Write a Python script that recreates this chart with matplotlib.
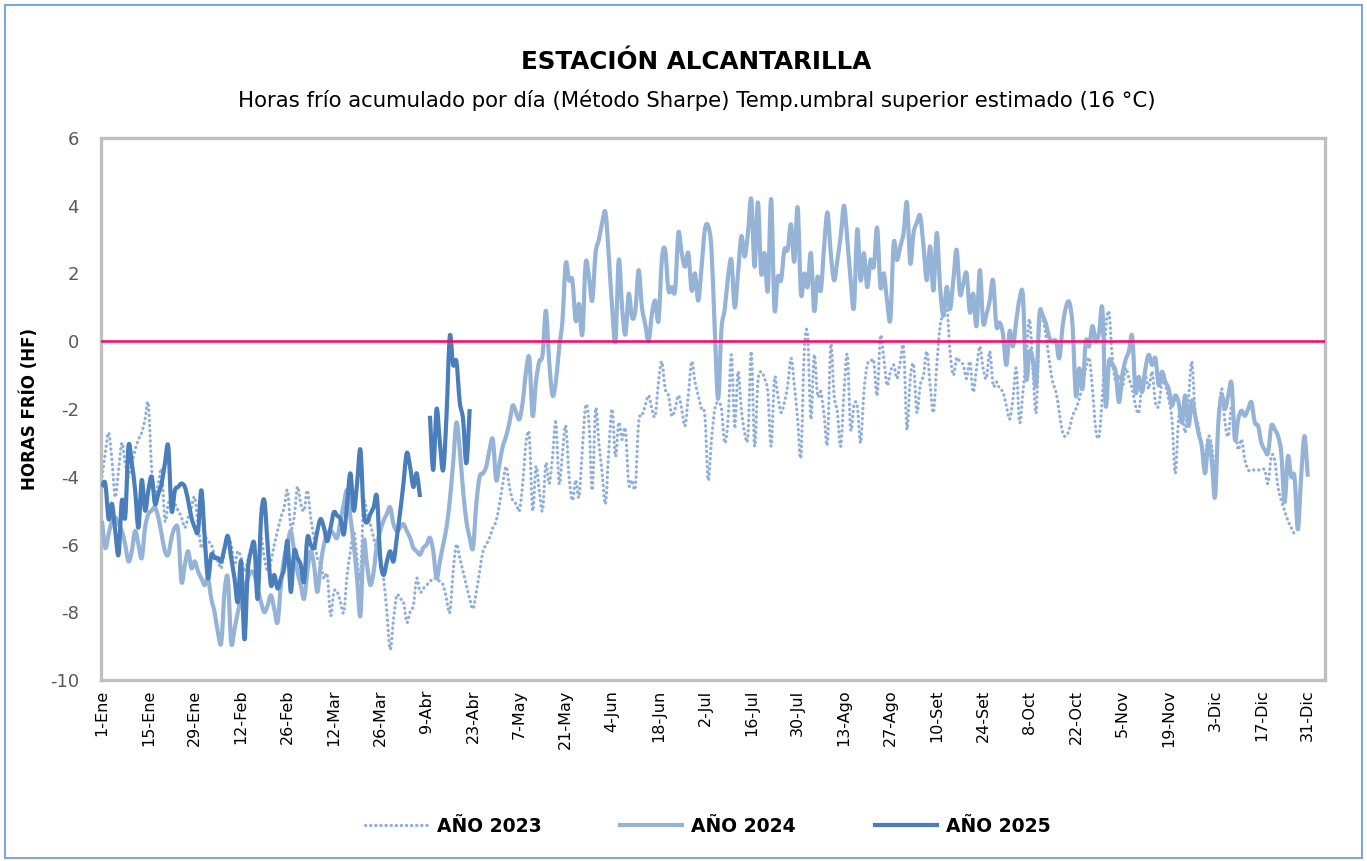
import numpy as np
import matplotlib
matplotlib.use("Agg")
import matplotlib.pyplot as plt
from matplotlib.patches import Rectangle, PathPatch
from matplotlib.path import Path
from matplotlib.lines import Line2D

# daily values (HF per day)
hf_2023 = [
    -4.0, -3.3, -2.7, -3.5, -4.6, -3.8, -3.0, -3.6, -4.0, -3.6,
    -3.2, -2.9, -2.7, -2.3, -1.85, -3.8, -4.5, -4.2, -3.8, -5.3,
    -4.8, -4.6, -4.8, -5.0, -5.2, -5.5, -5.2, -4.9, -4.6, -5.4,
    -6.1, -5.8, -5.9, -6.0, -6.3, -6.5, -6.7, -6.2, -5.9, -6.0,
    -6.6, -6.2, -6.4, -6.8, -6.5, -6.1, -6.3, -6.6, -5.8, -6.4,
    -6.8, -6.5, -6.0, -5.6, -5.2, -4.9, -4.4, -5.5, -5.2, -4.3,
    -4.8, -5.0, -4.4, -5.2, -5.8, -6.4, -6.6, -7.0, -6.9, -8.1,
    -7.4, -7.4, -7.7, -8.0, -6.9, -6.2, -5.6, -6.4, -7.0, -4.8,
    -5.1, -5.4, -5.8, -6.2, -6.4, -7.0, -8.0, -9.1, -8.2, -7.5,
    -7.6, -7.7, -8.3, -8.0, -7.8, -7.0, -7.4, -7.3, -7.2, -7.1,
    -7.0, -7.0, -7.1, -7.2, -7.6, -8.0, -6.8, -6.0, -6.4, -6.8,
    -7.2, -7.6, -7.9, -7.4, -6.8, -6.2, -6.0, -5.8, -5.5, -5.3,
    -4.8, -4.2, -3.7, -4.3, -4.7, -4.8, -5.0, -4.2, -3.0, -2.8,
    -5.0, -3.7, -4.4, -5.0, -3.6, -4.2, -3.4, -2.4, -4.2, -3.3,
    -2.5, -4.0, -4.7, -4.1, -4.6, -3.2, -1.9, -2.4, -4.4, -2.0,
    -3.0, -3.9, -4.8, -3.2, -2.0, -3.4, -2.4, -2.9, -2.6, -4.2,
    -4.1, -4.3, -2.4, -2.2, -1.9, -1.6, -2.0, -2.2, -1.2, -0.6,
    -1.4, -1.6, -2.2, -2.0, -1.6, -2.0, -2.5, -1.6, -0.6, -1.2,
    -1.6, -2.0, -2.2, -4.1, -2.9, -2.0, -1.8, -2.0, -3.0, -2.3,
    -0.4, -2.5, -0.9, -2.0, -2.7, -2.8, -0.3, -3.1, -1.2, -0.9,
    -1.1, -1.5, -3.1, -1.1, -1.6, -2.1, -1.8, -1.3, -0.5, -1.3,
    -2.3, -3.4, -0.3, 0.2, -2.3, -0.4, -1.6, -1.5, -2.2, -3.0,
    -0.1, -1.6, -2.1, -3.1, -1.5, -0.4, -2.6, -1.9, -1.9, -3.0,
    -1.5, -0.7, -0.6, -0.6, -1.6, 0.15, -0.5, -1.3, -0.9, -0.7,
    -1.1, -0.6, -0.2, -2.6, -1.1, -0.7, -2.1, -1.3, -1.0, -0.3,
    -1.3, -2.1, -0.7, 0.45, 0.8, 1.1, -0.3, -1.0, -0.5, -0.6,
    -0.7, -1.1, -0.6, -1.5, -0.8, -0.15, -0.8, -1.1, -0.3, -1.3,
    -1.2, -1.4, -1.5, -1.9, -2.3, -1.7, -0.8, -2.4, -1.5, -0.5,
    0.65, -0.8, -2.1, 0.45, 0.65, 0.15, -0.6, -1.2, -1.5, -2.1,
    -2.7, -2.8, -2.6, -2.2, -2.0, -1.7, -1.3, -0.8, -0.5, -1.4,
    -2.6, -2.8, -1.6, 0.35, 0.85, -0.5, -1.2, -1.0, -1.4, -0.8,
    -1.1, -1.4, -1.9, -2.1, -1.2, -1.0, -1.4, -0.9, -1.8, -1.9,
    -1.2, -1.3, -1.7, -2.3, -3.9, -2.3, -2.0, -2.7, -1.7, -0.6,
    -2.1, -2.5, -3.1, -3.4, -2.8, -3.1, -3.8, -2.5, -1.4, -2.4,
    -2.8, -1.9, -2.5, -3.2, -2.9, -3.5, -3.8, -3.8, -3.8, -3.8,
    -3.8, -3.8, -4.2, -3.4, -3.5, -4.3, -4.7, -5.0, -5.3, -5.5,
    -5.7,
]

hf_2024 = [
    -5.3, -6.1, -5.7, -5.3, -5.2, -5.4, -5.6, -6.0, -6.5, -6.2,
    -5.6, -6.0, -6.4, -5.5, -5.1, -5.0, -4.9, -5.2, -5.7, -6.2,
    -6.3, -5.8, -5.5, -5.6, -7.1, -6.6, -6.2, -6.7, -6.5, -6.8,
    -7.0, -7.2, -7.0, -7.6, -8.0, -8.6, -8.9, -7.4, -7.0, -8.9,
    -8.5, -8.0, -7.6, -7.3, -7.0, -6.8, -6.9, -7.3, -7.7, -8.0,
    -7.8, -7.5, -7.9, -8.3, -7.2, -6.4, -6.0, -5.6, -6.2, -6.8,
    -7.2, -7.6, -6.8, -6.2, -6.6, -7.4, -6.6, -6.0, -5.7, -5.6,
    -5.7, -5.8, -5.3, -4.8, -4.4, -5.2, -6.0, -7.0, -8.1, -5.9,
    -6.6, -7.2, -6.8, -6.0, -5.6, -5.3, -5.1, -4.9, -5.4, -5.6,
    -5.5, -5.4, -5.6, -5.8, -6.1, -6.2, -6.3, -6.1, -6.0, -5.8,
    -6.2, -7.0, -6.5, -6.0, -5.5, -4.7, -3.6, -2.4, -3.2, -4.4,
    -5.3, -5.8, -6.1, -4.8, -4.0, -3.9, -3.7, -3.2, -2.9, -4.1,
    -3.6, -3.1, -2.8, -2.4, -1.9, -2.1, -2.3, -1.8, -0.9, -0.5,
    -2.2, -1.2, -0.6, -0.4, 0.9, -0.6, -1.6, -1.2, -0.2, 0.6,
    2.3, 1.8, 1.8, 0.6, 1.1, 0.2, 2.3, 1.9, 1.2, 2.6,
    3.0, 3.5, 3.8, 2.5, 1.0, 0.0, 2.4, 1.0, 0.2, 1.4,
    0.7, 0.9, 2.1, 1.0, 0.5, 0.0, 0.8, 1.2, 0.6, 2.4,
    2.7, 1.5, 1.6, 1.5, 3.2, 2.6, 2.2, 2.6, 1.5, 2.0,
    1.2, 2.2, 3.3, 3.4, 2.7, 0.3, -1.7, 0.35, 0.95, 1.9,
    2.4, 1.0, 2.0, 3.1, 2.5, 3.2, 4.2, 2.2, 4.1, 2.0,
    2.6, 1.5, 4.2, 0.95, 1.9, 1.8, 2.7, 2.7, 3.45, 2.35,
    3.95, 1.4, 2.0, 1.6, 2.6, 0.9, 1.9, 1.5, 2.8, 3.8,
    2.6, 1.8, 2.4, 3.1, 4.0, 3.0, 1.8, 1.0, 3.3, 1.8,
    2.6, 1.6, 2.4, 2.2, 3.35, 1.6, 2.0, 1.2, 0.65, 2.9,
    2.4, 2.8, 3.2, 4.1, 2.3, 3.2, 3.5, 3.7, 2.8, 1.8,
    2.8, 1.5, 3.2, 1.6, 0.75, 1.6, 0.95, 1.8, 2.7, 1.4,
    1.7, 2.0, 0.85, 1.4, 0.45, 2.1, 0.55, 0.8, 1.2, 1.8,
    0.45, 0.55, 0.2, -0.7, 0.3, -0.15, 0.6, 1.25, 1.35, -1.1,
    -0.3, -0.55, -1.3, 0.8, 0.75, 0.5, 0.1, 0.0, 0.0, -0.5,
    0.45, 1.0, 1.15, 0.45, -1.6, -0.8, -1.4, 0.0, -0.15, 0.45,
    0.0, 0.25, 0.95, -1.9, -0.6, -0.7, -0.9, -1.8, -1.0, -0.55,
    -0.3, 0.15, -1.5, -1.05, -1.5, -0.8, -0.4, -0.7, -0.5, -1.3,
    -0.9, -1.2, -1.4, -1.9, -1.6, -1.8, -2.4, -1.6, -2.5, -1.75,
    -2.2, -2.7, -3.1, -3.9, -2.95, -3.5, -4.6, -2.4, -1.6, -2.0,
    -1.6, -1.25, -2.9, -2.3, -2.05, -2.2, -2.0, -1.8, -2.4, -2.5,
    -3.0, -3.2, -3.3, -2.5, -2.6, -2.8, -3.3, -4.75, -3.4, -4.0,
    -4.0, -5.55, -4.0, -2.8, -4.0,
]

hf_2025 = [
    -4.3, -4.2, -5.25, -4.8, -5.6, -6.3, -4.7, -5.2, -3.1, -3.6,
    -4.4, -5.5, -4.1, -5.0, -4.4, -4.0, -4.8, -4.5, -4.2, -3.6,
    -3.1, -5.0, -4.4, -4.3, -4.2, -4.3, -4.7, -5.2, -5.5, -5.6,
    -4.4, -5.8, -7.0, -6.3, -6.4, -6.4, -6.5, -6.1, -5.75, -6.4,
    -7.0, -7.7, -6.5, -8.8, -6.8, -6.2, -6.0, -7.6, -5.25, -4.7,
    -6.0, -7.2, -6.9, -7.3, -7.0, -6.7, -5.9, -7.4, -6.2, -6.4,
    -6.6, -7.1, -5.8, -6.0, -6.1, -5.6, -5.25, -5.5, -5.9, -5.5,
    -5.05, -5.15, -5.25, -5.7, -4.8, -3.9, -5.0, -4.2, -3.2, -5.05,
    -5.35, -5.1, -4.9, -4.6, -6.4, -6.9, -6.5, -6.2, -6.5, -5.8,
    -5.05, -4.2, -3.3, -3.7, -4.3, -3.9, -4.6, None, None, -2.2,
    -3.8, -2.0, -3.0, -3.8, -2.2, 0.15, -0.7, -0.6, -1.8, -2.3,
    -3.6, -2.0,
]

tick_labels = ["1-Ene", "15-Ene", "29-Ene", "12-Feb", "26-Feb", "12-Mar",
               "26-Mar", "9-Abr", "23-Abr", "7-May", "21-May", "4-Jun",
               "18-Jun", "2-Jul", "16-Jul", "30-Jul", "13-Ago", "27-Ago",
               "10-Set", "24-Set", "8-Oct", "22-Oct", "5-Nov", "19-Nov",
               "3-Dic", "17-Dic", "31-Dic"]


def as_array(values):
    return np.array([np.nan if v is None else v for v in values], dtype=float)


def smooth_line(ax, y, **style):
    """Draw the series as a smoothed curve (like Excel's smoothed line option),
    passing through every daily value; gaps (NaN) break the curve."""
    x = np.arange(len(y), dtype=float)
    idx = np.flatnonzero(~np.isnan(y))
    runs = np.split(idx, np.flatnonzero(np.diff(idx) > 1) + 1)
    verts, codes = [], []
    for r in runs:
        px, py = x[r], y[r]
        n = len(r)
        verts.append((px[0], py[0]))
        codes.append(Path.MOVETO)
        for i in range(n - 1):
            a = max(i - 1, 0)
            b = min(i + 2, n - 1)
            c1 = (px[i] + (px[i + 1] - px[a]) / 6, py[i] + (py[i + 1] - py[a]) / 6)
            c2 = (px[i + 1] - (px[b] - px[i]) / 6, py[i + 1] - (py[b] - py[i]) / 6)
            verts += [c1, c2, (px[i + 1], py[i + 1])]
            codes += [Path.CURVE4] * 3
    patch = PathPatch(Path(verts, codes), fill=False, **style)
    ax.add_patch(patch)
    return patch


y23 = as_array(hf_2023)
y24 = as_array(hf_2024)
y25 = as_array(hf_2025)

c23, c24, c25 = "#8FAEDB", "#95B3D7", "#4A7EBB"
dots = (0, (0.1, 1.5))

W, H = 1367, 861
fig = plt.figure(figsize=(W / 100, H / 100), dpi=100)
fig.patch.set_facecolor("white")

# chart area border
fig.patches.append(Rectangle((0.004, 0.004), 0.992, 0.99, transform=fig.transFigure,
                             fill=False, edgecolor="#7FA6D6", linewidth=1.5))

ax = fig.add_axes([101 / W, 1 - 680 / H, (1325 - 101) / W, (680 - 138) / H])

p23 = smooth_line(ax, y23, edgecolor=c23, lw=2.3, linestyle=dots, zorder=2)
p23.set_capstyle("round")
smooth_line(ax, y24, edgecolor=c24, lw=3.0, zorder=3, joinstyle="round")
smooth_line(ax, y25, edgecolor=c25, lw=3.0, zorder=4, joinstyle="round")
ax.axhline(0, color="#FF0066", lw=1.8, zorder=5)

ax.set_xlim(-0.3, 369.2)
ax.set_ylim(-10, 6)
ax.set_yticks(range(-10, 7, 2))
ax.set_yticklabels([str(v) for v in range(-10, 7, 2)])
ax.set_xticks(range(0, 365, 14))
ax.set_xticklabels(tick_labels, rotation=90)
ax.tick_params(axis="x", length=0, pad=7, labelsize=11.5, labelcolor="black")
ax.tick_params(axis="y", length=0, pad=16, labelsize=13, labelcolor="#595959")

for s in ax.spines.values():
    s.set_color("#BFBFBF")
    s.set_linewidth(2.4)

fig.text(696 / W, 1 - 62 / H, "ESTACIÓN ALCANTARILLA", ha="center", va="center",
         fontsize=17.7, fontweight="bold")
fig.text(697 / W, 1 - 100 / H,
         "Horas frío acumulado por día (Método Sharpe) Temp.umbral superior estimado (16 °C)",
         ha="center", va="center", fontsize=15.3)
fig.text(30 / W, 1 - 409 / H, "HORAS FRÍO (HF)", rotation=90, ha="center", va="center",
         fontsize=12, fontweight="bold")

handles = [
    Line2D([], [], color=c23, lw=2.3, linestyle=dots, dash_capstyle="round"),
    Line2D([], [], color=c24, lw=3.0),
    Line2D([], [], color=c25, lw=3.0),
]
fig.legend(handles, ["AÑO 2023", "AÑO 2024", "AÑO 2025"], loc="center",
           bbox_to_anchor=(708 / W, 1 - 826 / H), ncol=3, frameon=False,
           handlelength=3.3, columnspacing=4.2, handletextpad=0.5,
           prop={"weight": "bold", "size": 13.5})

fig.savefig("out.png", dpi=100)
